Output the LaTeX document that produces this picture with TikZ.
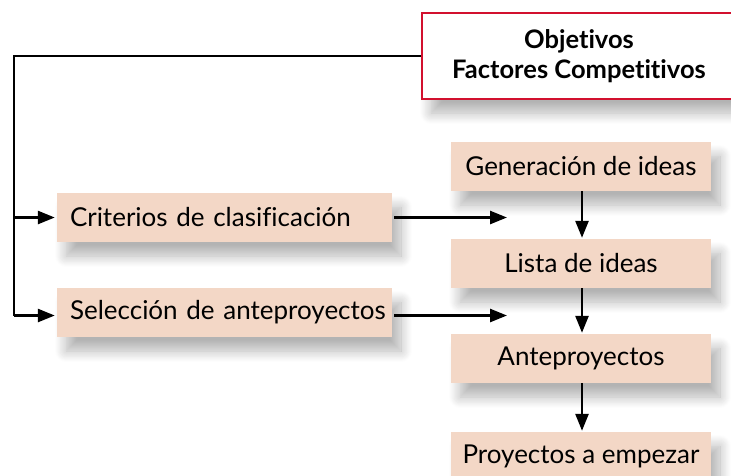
\documentclass[tikz,border=0pt]{standalone}
\usepackage{fontspec}
\setmainfont{Lato}[Ligatures=CommonOff]
\usetikzlibrary{arrows.meta,shadows.blur}
\definecolor{peach}{RGB}{243,215,198}
\definecolor{boxred}{RGB}{210,16,46}
\tikzset{
  shad/.style={blur shadow={shadow xshift=9pt, shadow yshift=-14pt, shadow blur radius=11pt, shadow blur steps=12, shadow opacity=30}},
  pbox/.style={shad, fill=peach, draw=none, minimum height=49pt, inner sep=0pt, font=\fontsize{26}{30}\selectfont},
  lbox/.style={pbox, text width=309pt, align=left, minimum width=335pt, inner xsep=13pt},
  rbox/.style={pbox, minimum width=260pt},
  conn/.style={line width=2.6pt, black},
  arr/.style={conn, -{Triangle[length=17pt,width=13pt]}},
}
\begin{document}
\begin{tikzpicture}[x=1pt,y=-1pt]
\useasboundingbox (0,0) rectangle (731,475);
\node[shad, fill=white, draw=boxred, line width=2.4pt, minimum width=314pt, minimum height=86pt, align=center,
  font=\bfseries\fontsize{25.5}{30}\selectfont] (obj) at (579,56) {Objetivos\\Factores Competitivos};
\node[lbox] (crit) at (224.5,217.5) {\mbox{Criterios de clasificación}};
\node[lbox] (sel) at (224.5,312.5) {\mbox{Selección de anteproyectos}};
\node[rbox] (gen) at (581,166.5) {Generación de ideas};
\node[rbox] (lista) at (581,263.5) {Lista de ideas};
\node[rbox] (ante) at (581,358.5) {Anteproyectos};
\node[rbox] (proy) at (581,456.5) {Proyectos a empezar};
\coordinate (corner) at (14,56);
\coordinate (branch) at (14,217.5);
\coordinate (t1) at (507,217.5);
\coordinate (t2) at (507,315.5);
\draw[conn] (obj.west) -- (corner) -- (14,315.5);
\draw[arr] (14,315.5) -- ([xshift=-2pt,yshift=-3pt]sel.west);
\draw[arr] (branch) -- ([xshift=-2pt]crit.west);
\draw[arr] ([xshift=2pt]crit.east) -- (t1);
\draw[arr] ([xshift=2pt,yshift=-3pt]sel.east) -- (t2);
\draw[arr] ([xshift=1pt]gen.south) -- ([xshift=1pt,yshift=1pt]lista.north);
\draw[arr] ([xshift=1pt]lista.south) -- ([xshift=1pt,yshift=1pt]ante.north);
\draw[arr] ([xshift=1pt]ante.south) -- ([xshift=1pt,yshift=1pt]proy.north);
\end{tikzpicture}
\end{document}
